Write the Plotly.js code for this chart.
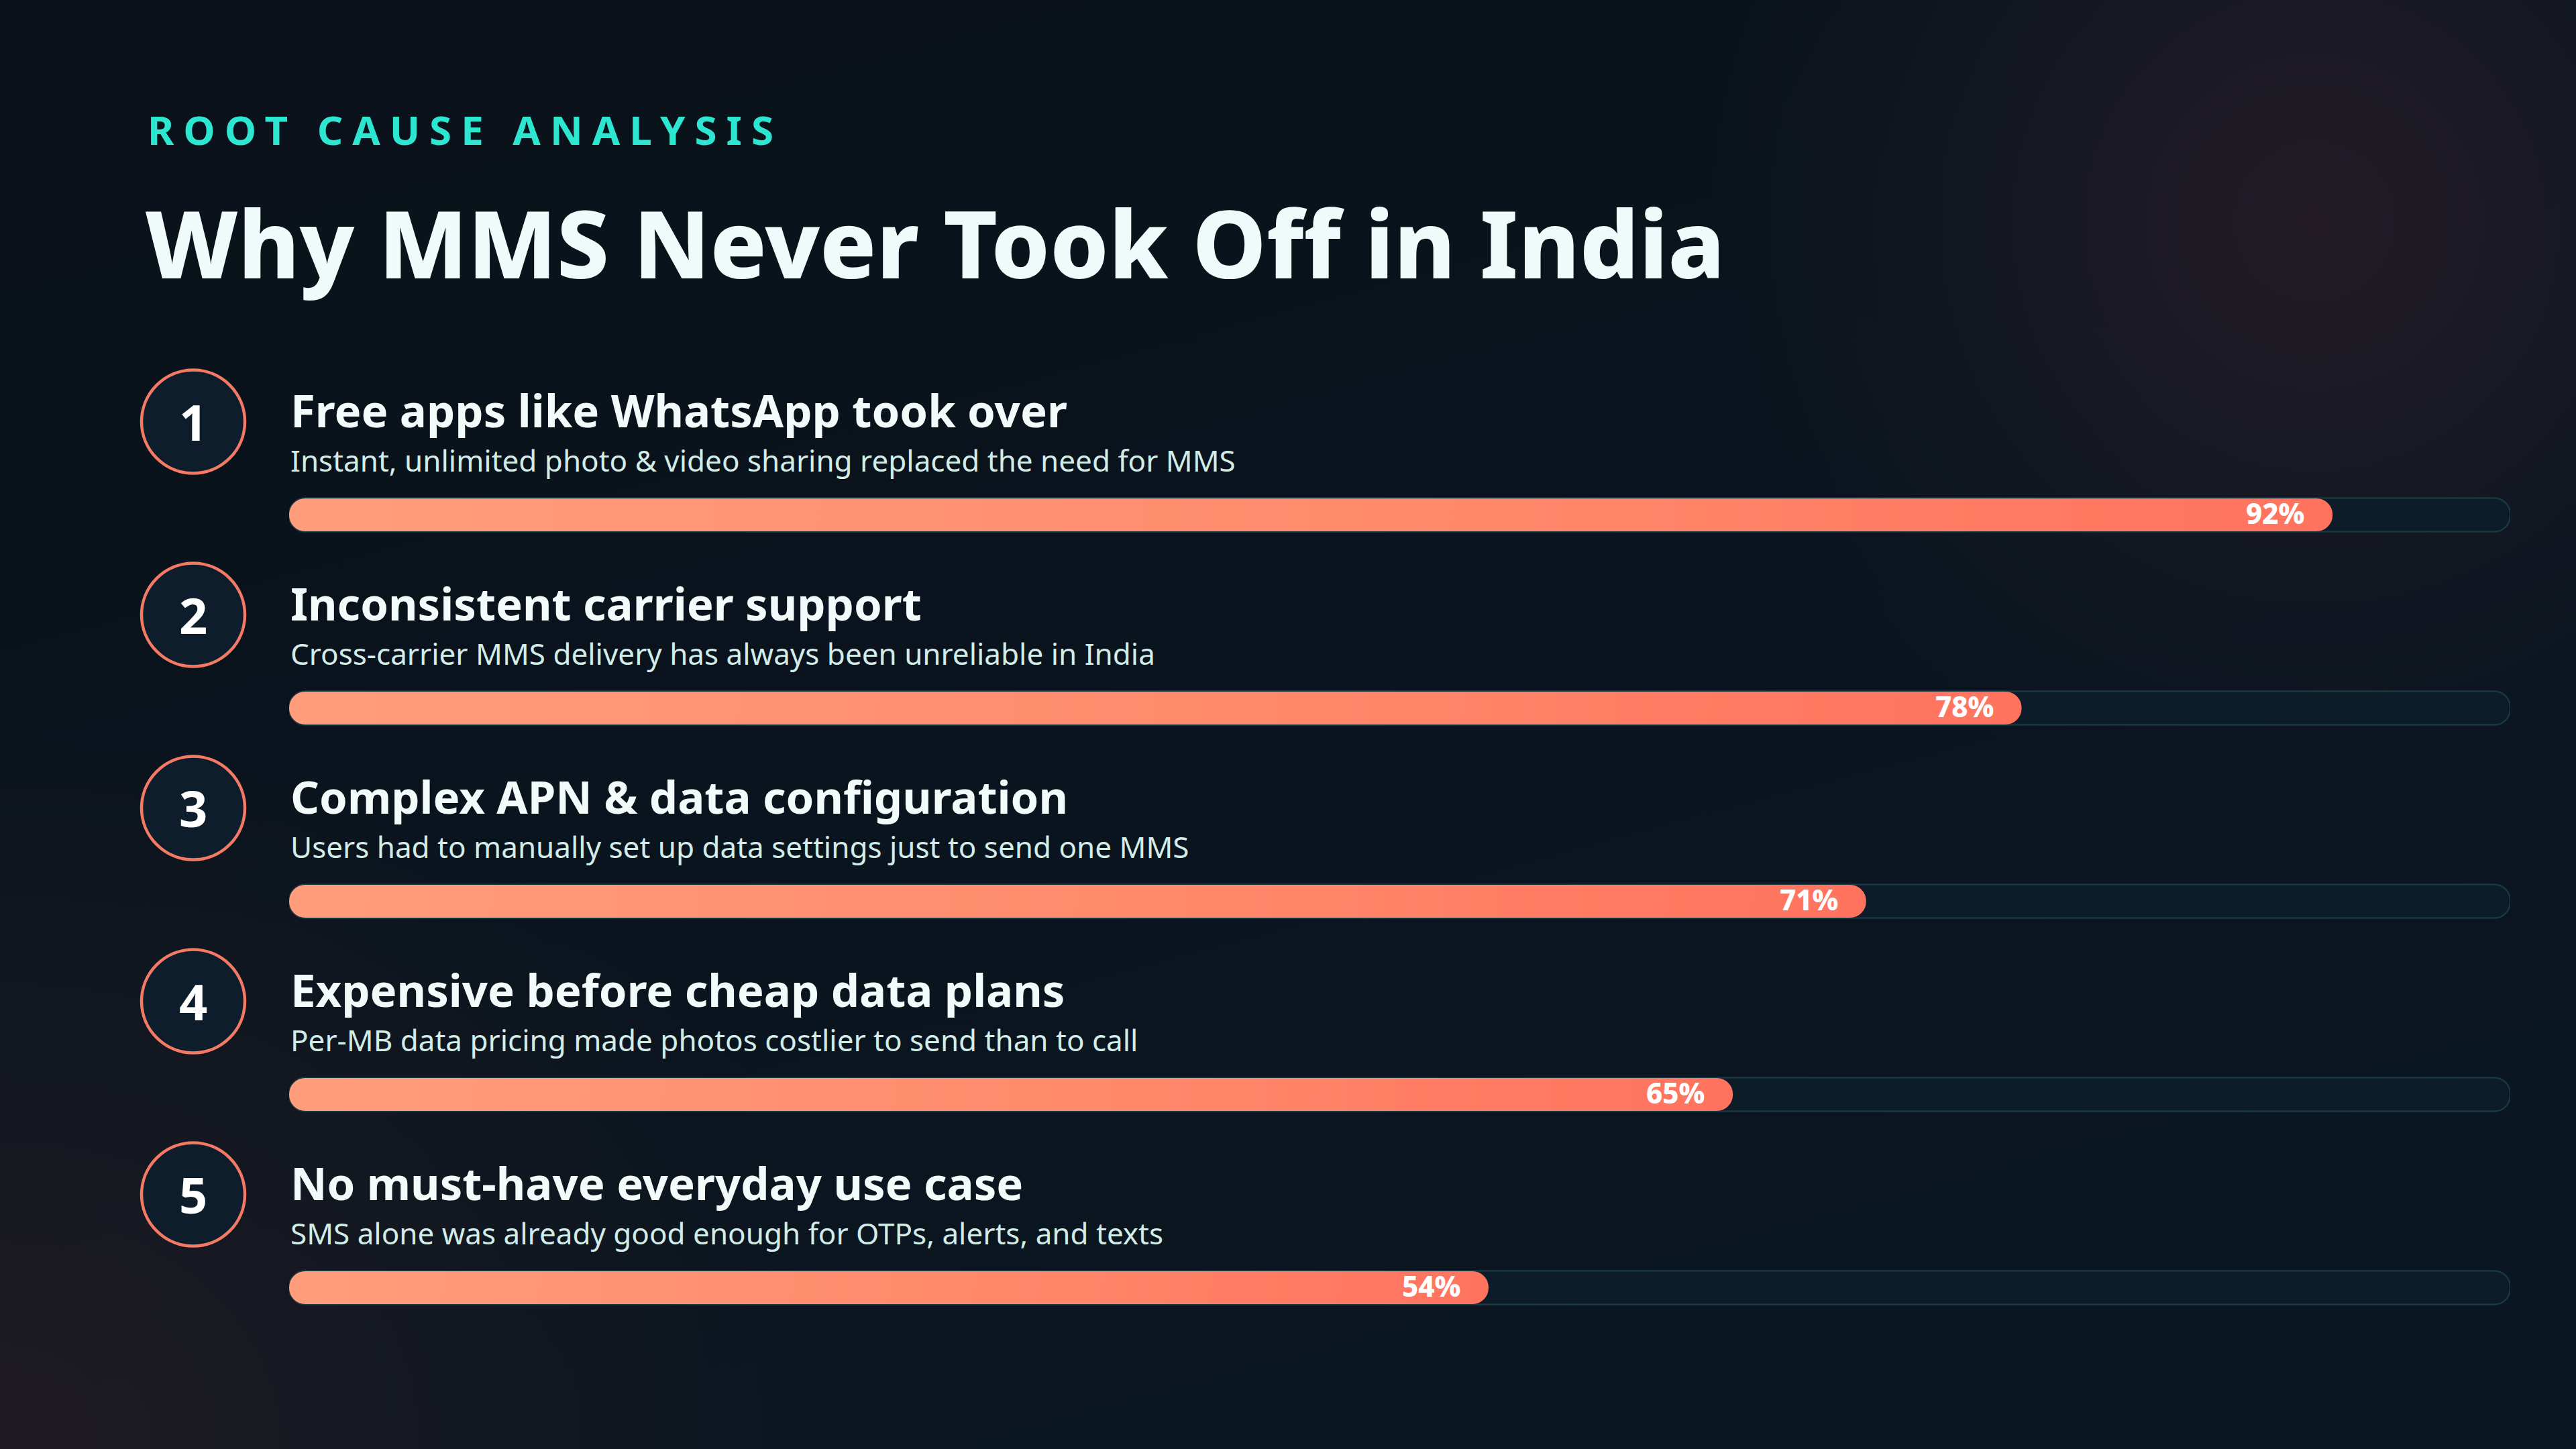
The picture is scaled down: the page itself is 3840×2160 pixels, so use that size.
<!DOCTYPE html>
<html>
<head>
<meta charset="utf-8">
<script src="https://cdn.plot.ly/plotly-3.0.1.min.js"></script>
<style>
  html, body { margin: 0; padding: 0; width: 3840px; height: 2160px; overflow: hidden; }
  body {
    background:
      radial-gradient(ellipse 900px 900px at 3450px 330px, rgba(36,28,38,0.95) 0%, rgba(31,27,38,0.75) 35%, rgba(24,26,36,0.45) 65%, rgba(12,22,32,0) 100%),
      radial-gradient(ellipse 1300px 1100px at 0px 2160px, rgba(33,27,34,0.95) 0%, rgba(28,26,34,0.6) 45%, rgba(12,20,30,0) 100%),
      linear-gradient(165deg, #0a1119 0%, #0a141e 45%, #0a1722 100%);
  }
  #chart { width: 3840px; height: 2160px; }
</style>
</head>
<body>
<div id="chart"></div>
<script>
// ---- data ----
const kicker = "ROOT CAUSE ANALYSIS";
const chartTitle = "Why MMS Never Took Off in India";
const ranks = ["1", "2", "3", "4", "5"];
const headings = [
  "Free apps like WhatsApp took over",
  "Inconsistent carrier support",
  "Complex APN & data configuration",
  "Expensive before cheap data plans",
  "No must-have everyday use case"
];
const subtitles = [
  "Instant, unlimited photo & video sharing replaced the need for MMS",
  "Cross-carrier MMS delivery has always been unreliable in India",
  "Users had to manually set up data settings just to send one MMS",
  "Per-MB data pricing made photos costlier to send than to call",
  "SMS alone was already good enough for OTPs, alerts, and texts"
];
const values = [92, 78, 71, 65, 54];
const maxValue = 100;

// ---- style / layout constants ----
const FONT = "Noto Sans, Open Sans, DejaVu Sans, sans-serif";
const W = 3840, H = 2160;
const xDomain = [431 / W, 3742 / W];
const rowPx = 288;
const firstBarPx = 767.5;
const yTopPx = firstBarPx - rowPx * 1.5;
const yBotPx = firstBarPx + rowPx * (headings.length - 1) + rowPx / 2;
const yDomain = [1 - yBotPx / H, 1 - yTopPx / H];
const barThick = 49 / rowPx;
const circleX = 288 / W;

// Each bar is drawn as two overlapping pieces: one growing leftward (rounded
// at the start) and one growing rightward (rounded at the end), so that both
// ends of the pill are rounded and the overlap hides the inner seams.
function piece(base, len, color, line, thick) {
  return {
    type: "bar", orientation: "h",
    y: headings, x: len, base: base,
    width: thick,
    marker: { color: color, line: line, cornerradius: 24 },
    hoverinfo: "skip", showlegend: false
  };
}
const trackLine = { color: "#1b3644", width: 2.5 };
const trackThick = barThick + 0.004;
const traces = [
  piece(headings.map(() => maxValue * 0.5), headings.map(() => -maxValue * 0.5), "#0c1c29", trackLine, trackThick),
  piece(headings.map(() => maxValue * 0.2), headings.map(() => maxValue * 0.8), "#0c1c29", trackLine, trackThick),
  piece(values.map(v => v * 0.75), values.map(v => -v * 0.75), "#ff8468", { width: 0 }, barThick),
  piece(values.map(v => v * 0.25), values.map(v => v * 0.75), "#ff8468", { width: 0 }, barThick)
];

const annotations = [
  { xref: "paper", yref: "paper", x: 218 / W, y: 1 - 193 / H, xanchor: "left", yanchor: "middle",
    text: kicker, showarrow: false,
    font: { family: FONT, size: 60, color: "#2de6d1", weight: 700 } },
  { xref: "paper", yref: "paper", x: 214 / W, y: 1 - 361 / H, xanchor: "left", yanchor: "middle",
    text: chartTitle, showarrow: false,
    font: { family: FONT, size: 139, color: "#f1fafa", weight: 800 } }
];

const shapes = [];
headings.forEach((h, i) => {
  shapes.push({
    type: "circle", xref: "paper", yref: "y",
    xsizemode: "pixel", ysizemode: "pixel",
    xanchor: circleX, yanchor: i,
    x0: -77, x1: 77, y0: 139 - 77, y1: 139 + 77,
    fillcolor: "#0e1d2b", line: { color: "#f47a63", width: 4.5 }, layer: "above"
  });
  annotations.push({
    xref: "paper", yref: "y", x: circleX, y: i, yshift: 139,
    xanchor: "center", yanchor: "middle", text: ranks[i], showarrow: false,
    font: { family: FONT, size: 74, color: "#ffffff", weight: 700 }
  });
  annotations.push({
    xref: "paper", yref: "y", x: xDomain[0], y: i, yshift: 157,
    xanchor: "left", yanchor: "middle", text: h, showarrow: false,
    font: { family: FONT, size: 67, color: "#f2fbfa", weight: 700 }
  });
  annotations.push({
    xref: "paper", yref: "y", x: xDomain[0], y: i, yshift: 82,
    xanchor: "left", yanchor: "middle", text: subtitles[i], showarrow: false,
    font: { family: FONT, size: 44, color: "#d3ece7", weight: 400 }
  });
  annotations.push({
    xref: "x", yref: "y", x: values[i], y: i, xshift: -40, yshift: 3,
    xanchor: "right", yanchor: "middle", text: values[i] + "%", showarrow: false,
    font: { family: FONT, size: 42, color: "#ffffff", weight: 800 }
  });
});

const layout = {
  width: W, height: H,
  margin: { l: 0, r: 0, t: 0, b: 0, pad: 0 },
  paper_bgcolor: "rgba(0,0,0,0)", plot_bgcolor: "rgba(0,0,0,0)",
  barmode: "overlay",
  showlegend: false,
  xaxis: { domain: xDomain, range: [0, maxValue], visible: false, fixedrange: true },
  yaxis: { domain: yDomain, type: "category", categoryarray: headings, categoryorder: "array",
           range: [headings.length - 0.5, -1.5], visible: false, fixedrange: true },
  annotations: annotations,
  shapes: shapes
};

Plotly.newPlot("chart", traces, layout, { displayModeBar: false, staticPlot: true }).then(gd => {
  const svg = gd.querySelector("svg.main-svg");
  const ns = "http://www.w3.org/2000/svg";
  let defs = svg.querySelector("defs");
  if (!defs) { defs = document.createElementNS(ns, "defs"); svg.insertBefore(defs, svg.firstChild); }
  const barTraces = gd.querySelectorAll(".barlayer .trace");
  if (barTraces.length > 3) {
    const leftPaths = barTraces[2].querySelectorAll("path");
    const rightPaths = barTraces[3].querySelectorAll("path");
    leftPaths.forEach((lp, i) => {
      const rp = rightPaths[i];
      if (!rp) return;
      const b1 = lp.getBBox(), b2 = rp.getBBox();
      const grad = document.createElementNS(ns, "linearGradient");
      grad.setAttribute("id", "barGrad" + i);
      grad.setAttribute("gradientUnits", "userSpaceOnUse");
      grad.setAttribute("x1", b1.x); grad.setAttribute("y1", b1.y);
      grad.setAttribute("x2", b2.x + b2.width); grad.setAttribute("y2", b1.y + b1.height * 3);
      [["0", "#ff9d7c"], ["0.55", "#ff8a6c"], ["1", "#ff735e"]].forEach(([o, c]) => {
        const s = document.createElementNS(ns, "stop");
        s.setAttribute("offset", o); s.setAttribute("stop-color", c);
        grad.appendChild(s);
      });
      defs.appendChild(grad);
      lp.style.fill = "url(#barGrad" + i + ")";
      rp.style.fill = "url(#barGrad" + i + ")";
    });
  }
  // wide letter spacing for the kicker, keeping its left edge in place
  gd.querySelectorAll(".annotation-text").forEach(t => {
    if (t.textContent === kicker) {
      const b0 = t.getBBox();
      t.style.letterSpacing = "14px";
      const b1 = t.getBBox();
      t.setAttribute("transform", "translate(" + (b0.x - b1.x) + ",0)");
    }
  });
});
</script>
</body>
</html>
